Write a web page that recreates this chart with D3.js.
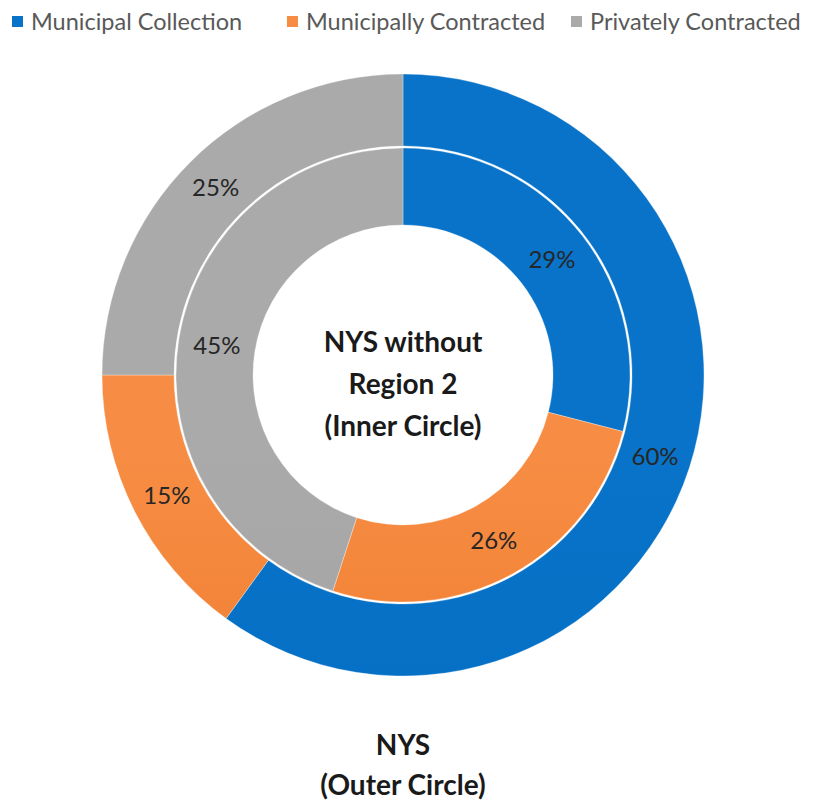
<!DOCTYPE html>
<html>
<head>
<meta charset="utf-8">
<script src="https://cdn.jsdelivr.net/npm/d3@7"></script>
<style>
  body { margin: 0; background: #fff; }
  svg { display: block; font-family: Lato, "Open Sans", sans-serif; }
</style>
</head>
<body>
<script>
//categories and values
var categories = ["Municipal Collection", "Municipally Contracted", "Privately Contracted"];
var outerValues = [60, 15, 25];   // NYS (outer circle)
var innerValues = [29, 26, 45];   // NYS without Region 2 (inner circle)
var centerTitle = ["NYS without", "Region 2", "(Inner Circle)"];
var bottomTitle = ["NYS", "(Outer Circle)"];

window.onload = drawChart();

function drawChart(){
    var width = 821,
        height = 800,
        cx = 403,
        cy = 375;

    var svg = d3.select("body")
        .append("svg")
        .attr("width", width)
        .attr("height", height);

    //colours with a light vertical shading like the office chart
    var colors = d3.scaleOrdinal()
        .domain(categories)
        .range([["#0873c8", "#006cc0"], ["#f78d44", "#e66f1c"], ["#aaaaaa", "#9c9c9c"]]);

    var defs = svg.append("defs");
    categories.forEach(function(c, i){
        var g = defs.append("linearGradient")
            .attr("id", "grad" + i)
            .attr("gradientUnits", "userSpaceOnUse")
            .attr("x1", 0).attr("y1", cy - 300)
            .attr("x2", 0).attr("y2", cy + 300);
        g.append("stop").attr("offset", "0%").attr("stop-color", colors(c)[0]);
        g.append("stop").attr("offset", "100%").attr("stop-color", colors(c)[1]);
    });

    var pie = d3.pie().sort(null).value(function(d){ return d.value; });

    var rings = [
        {values: outerValues, inner: 229, outer: 301},
        {values: innerValues, inner: 150, outer: 227}
    ];

    var chart = svg.append("g").attr("transform", "translate(" + cx + "," + cy + ")");

    rings.forEach(function(ring, r){
        var data = categories.map(function(c, i){ return {cat: c, idx: i, value: ring.values[i]}; });
        var arc = d3.arc().innerRadius(ring.inner).outerRadius(ring.outer);
        var labelArc = d3.arc()
            .innerRadius((ring.inner + ring.outer) / 2)
            .outerRadius((ring.inner + ring.outer) / 2);

        var slices = chart.selectAll(".ring" + r)
            .data(pie(data))
            .enter()
            .append("g")
            .attr("class", "ring" + r);

        slices.append("path")
            .attr("d", arc)
            .attr("fill", function(d){ return "url(#grad" + d.data.idx + ")"; })
            .attr("stroke", "#fff")
            .attr("stroke-opacity", 0.3)
            .attr("stroke-width", 1);

        slices.append("text")
            .attr("transform", function(d){ return "translate(" + labelArc.centroid(d) + ")"; })
            .attr("text-anchor", "middle")
            .attr("dy", "0.35em")
            .attr("font-size", 24)
            .attr("fill", "#262626")
            .text(function(d){ return d.data.value + "%"; });
    });

    //centre title
    chart.selectAll(".center-title")
        .data(centerTitle)
        .enter()
        .append("text")
        .attr("class", "center-title")
        .attr("text-anchor", "middle")
        .attr("y", function(d, i){ return -33 + i * 42; })
        .attr("dy", "0.35em")
        .attr("font-size", 28)
        .attr("font-weight", "bold")
        .attr("fill", "#1a1a1a")
        .text(function(d){ return d; });

    //bottom title
    svg.selectAll(".bottom-title")
        .data(bottomTitle)
        .enter()
        .append("text")
        .attr("class", "bottom-title")
        .attr("x", cx)
        .attr("text-anchor", "middle")
        .attr("y", function(d, i){ return 745 + i * 40; })
        .attr("dy", "0.35em")
        .attr("font-size", 28)
        .attr("font-weight", "bold")
        .attr("fill", "#1a1a1a")
        .text(function(d){ return d; });

    //legend
    var legendX = [12, 287, 571];
    var legend = svg.selectAll(".legend")
        .data(categories)
        .enter()
        .append("g")
        .attr("class", "legend")
        .attr("transform", function(d, i){ return "translate(" + legendX[i] + ",22)"; });

    legend.append("rect")
        .attr("x", 0).attr("y", -6)
        .attr("width", 11).attr("height", 11)
        .attr("fill", function(d){ return colors(d)[0]; });

    legend.append("text")
        .attr("x", 19)
        .attr("dy", "0.35em")
        .attr("font-size", 23.5)
        .attr("fill", "#595959")
        .text(function(d){ return d; });
}
</script>
</body>
</html>
